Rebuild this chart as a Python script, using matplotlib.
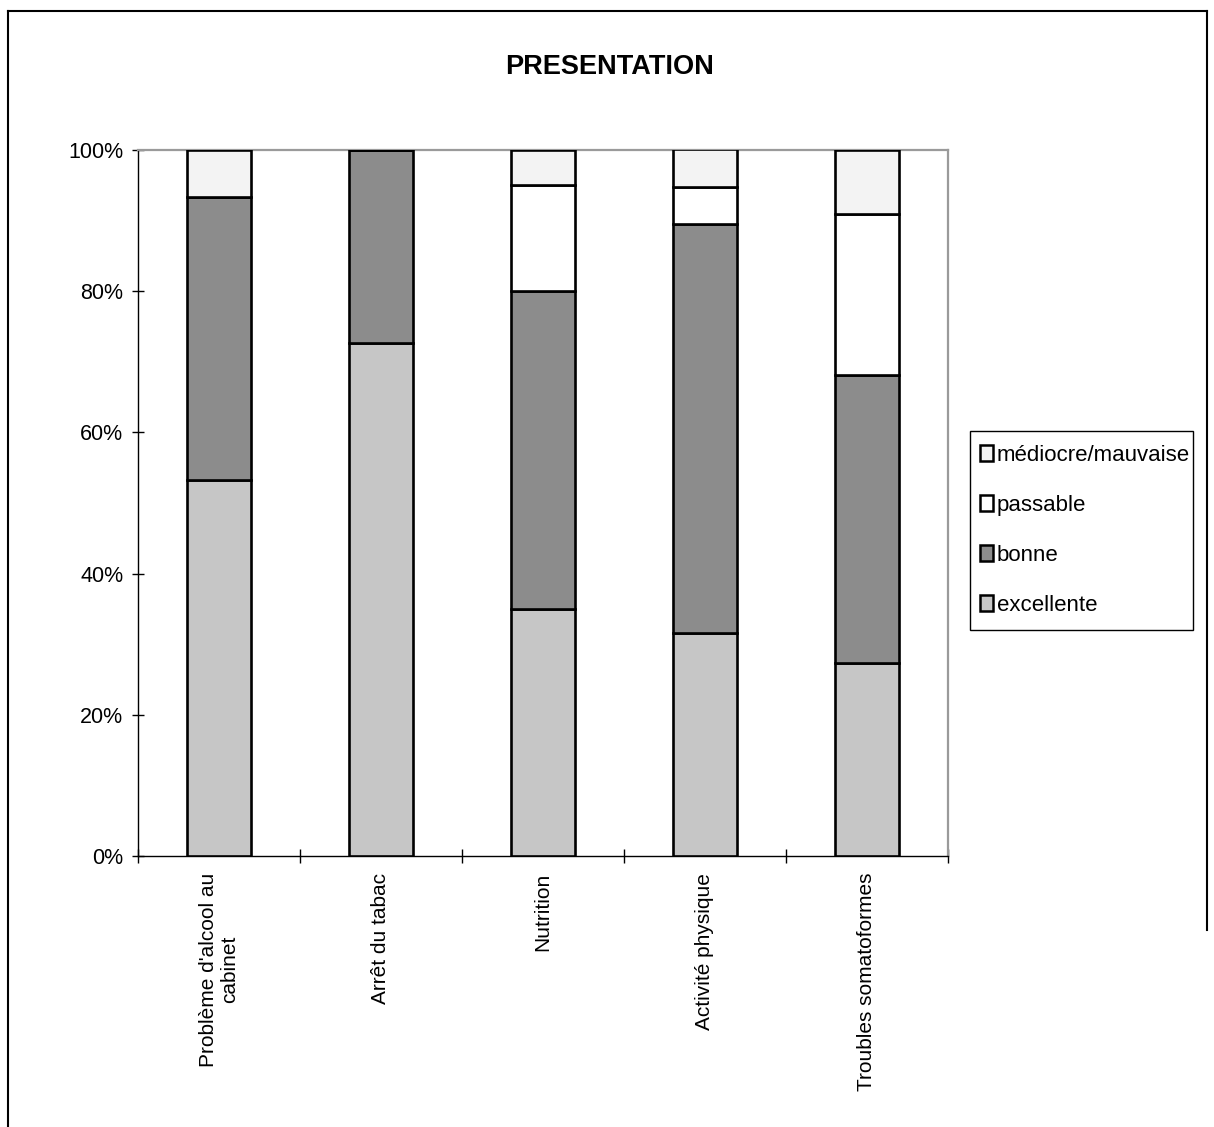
import matplotlib
matplotlib.use("Agg")
import matplotlib.pyplot as plt
from matplotlib.patches import Patch, Rectangle
from matplotlib.lines import Line2D
import numpy as np

plt.rcParams['font.family'] = ['Liberation Sans', 'DejaVu Sans']

categories = ["Problème d'alcool au\ncabinet", "Arrêt du tabac", "Nutrition",
              "Activité physique", "Troubles somatoformes"]
series_names = ["excellente", "bonne", "passable", "médiocre/mauvaise"]
excellente = [53.3, 72.7, 35.0, 31.6, 27.3]
bonne = [40.0, 27.3, 45.0, 57.9, 40.9]
passable = [0.0, 0.0, 15.0, 5.3, 22.7]
mediocre = [6.7, 0.0, 5.0, 5.3, 9.1]
y_ticks = [0, 20, 40, 60, 80, 100]
y_tick_labels = ["0%", "20%", "40%", "60%", "80%", "100%"]
title = "PRESENTATION"

colors = ["#c6c6c6", "#8c8c8c", "#ffffff", "#f3f3f3"]

W, H = 1214, 1127
fig = plt.figure(figsize=(W / 100, H / 100), dpi=100)
ax = fig.add_axes([138 / W, 1 - 856 / H, 810 / W, 706 / H])

x = np.arange(len(categories))
bottom = np.zeros(len(categories))
for vals, col in zip([excellente, bonne, passable, mediocre], colors):
    vals = np.array(vals)
    ax.bar(x, vals, width=0.40, bottom=bottom, color=col, edgecolor="black",
           linewidth=1.9, zorder=3)
    bottom += vals

ax.set_xlim(-0.5, len(categories) - 0.5)
ax.set_ylim(0, 100)

ax.set_yticks(y_ticks)
ax.set_yticklabels(y_tick_labels, fontsize=15.5)
ax.tick_params(axis="y", direction="inout", length=9, width=1, pad=6)

ax.set_xticks(x)
ax.set_xticklabels(categories, rotation=90, fontsize=15, va="top", ha="center",
                   multialignment="center")
ax.tick_params(axis="x", length=0, pad=12)
ax.set_xticks(np.arange(-0.5, len(categories)), minor=True)
ax.tick_params(axis="x", which="minor", direction="inout", length=10, width=1)

for side in ["top", "right"]:
    ax.spines[side].set_color("#9a9a9a")
    ax.spines[side].set_linewidth(1.6)
for side in ["left", "bottom"]:
    ax.spines[side].set_color("black")
    ax.spines[side].set_linewidth(1.0)

fig.text(610 / W, 1 - 67 / H, title, ha="center", va="center",
         fontsize=19.5, fontweight="bold")

# legend entries, with a separate box drawn around them
handles = [Patch(facecolor=c, edgecolor="black", linewidth=1.8)
           for c in colors]
leg = fig.legend(handles[::-1], series_names[::-1], loc="upper left",
                 bbox_to_anchor=(970 / W, 1 - 435 / H), fontsize=16,
                 frameon=False,
                 handlelength=0.6, handleheight=0.7, handletextpad=0.15,
                 labelspacing=1.3, borderpad=0.45, borderaxespad=0)
fig.add_artist(Rectangle((970 / W, 1 - 630 / H), (1193 - 970) / W, (630 - 431) / H,
                         transform=fig.transFigure, fill=False,
                         edgecolor="black", linewidth=1.0))

# page frame around the chart
fig.add_artist(Line2D([8 / W, 8 / W], [0, 1 - 11 / H], color="black", lw=1.5,
                      transform=fig.transFigure))
fig.add_artist(Line2D([8 / W, 1207 / W], [1 - 11 / H, 1 - 11 / H], color="black",
                      lw=1.5, transform=fig.transFigure))
fig.add_artist(Line2D([1207 / W, 1207 / W], [1 - 11 / H, 1 - 930 / H], color="black",
                      lw=1.5, transform=fig.transFigure))

fig.savefig("out.png", dpi=100, facecolor="white")
